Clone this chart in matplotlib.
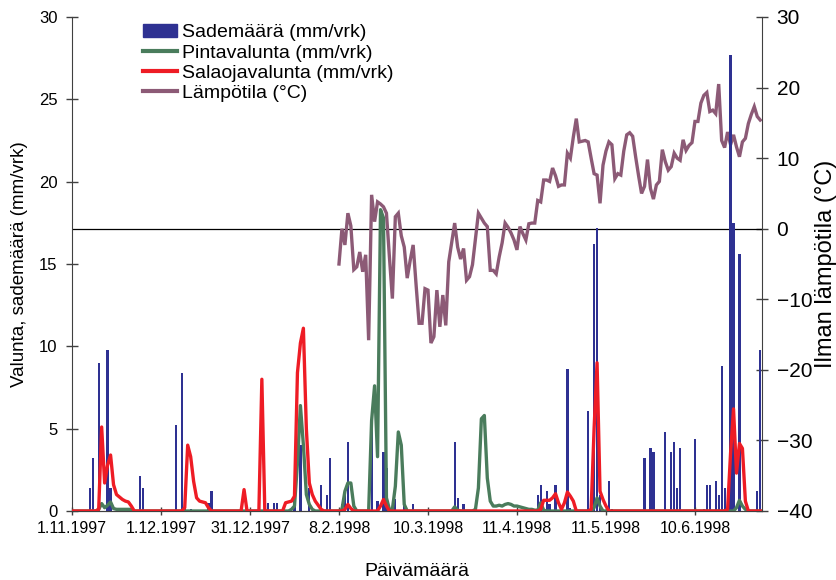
import matplotlib
matplotlib.use("Agg")
import matplotlib.pyplot as plt
from matplotlib.patches import Patch
from matplotlib.lines import Line2D
import numpy as np

plt.rcParams['font.family'] = ['Liberation Sans', 'DejaVu Sans']

# category axis: one slot per measured day, ticks every 30 slots
tick_labels = ["1.11.1997", "1.12.1997", "31.12.1997", "8.2.1998",
               "10.3.1998", "11.4.1998", "11.5.1998", "10.6.1998"]

# precipitation (mm/vrk), day slot -> value
rain_day = [0, 6, 7, 9, 12, 13, 23, 24, 35, 37, 38, 40, 46, 47,
            66, 68, 69, 75, 77, 80, 84, 86, 87, 91, 92, 93,
            101, 103, 105, 106, 109, 112, 115, 129, 130, 132,
            157, 158, 160, 161, 163, 167, 168, 174, 176, 177, 178, 181, 182,
            193, 195, 196, 200, 202, 203, 204, 205, 210, 213, 214, 215,
            217, 218, 219, 220, 222, 223, 225, 231, 232]
rain_mm = [0.2, 1.4, 3.2, 9.0, 9.8, 1.4, 2.1, 1.4, 5.2, 8.4, 0.5, 0.15, 0.5, 1.2,
           0.5, 0.5, 0.5, 1.4, 4.0, 1.4, 1.6, 1.0, 3.2, 0.4, 1.0, 4.2,
           6.2, 0.6, 3.6, 2.6, 0.7, 1.0, 0.4, 4.2, 0.8, 0.4,
           1.0, 1.6, 1.2, 0.4, 1.6, 8.6, 0.2, 6.1, 16.2, 17.2, 1.0, 1.8, 0.15,
           3.2, 3.8, 3.6, 4.8, 3.6, 4.2, 1.4, 3.8, 4.4, 0.15, 1.6, 1.6,
           1.8, 1.0, 8.8, 1.4, 27.7, 17.5, 15.6, 1.2, 9.8]

# surface runoff (mm/vrk), every day slot 0..232
pinta = [
    0, 0, 0, 0, 0, 0, 0, 0, 0, 0.1,
    0.45, 0.2, 0.35, 0.55, 0.15, 0.1, 0.1, 0.1, 0.1, 0.1,
    0.1, 0, 0, 0, 0, 0, 0, 0, 0, 0,
    0, 0, 0, 0, 0, 0, 0, 0, 0, 0,
    0, 0, 0, 0, 0, 0, 0, 0, 0, 0,
    0, 0, 0, 0, 0, 0, 0, 0, 0, 0,
    0, 0, 0, 0, 0, 0, 0, 0, 0, 0,
    0, 0, 0, 0, 0.1, 0.3, 2.9, 6.4, 4.0, 1.0,
    0.4, 0.1, 0, 0, 0, 0, 0, 0, 0, 0,
    0, 0.1, 1.2, 1.7, 1.7, 0.3, 0, 0, 0, 0,
    0, 5.5, 7.6, 3.3, 18.3, 17.8, 0.8, 0.1, 0.1, 1.5,
    4.8, 4.0, 0.4, 0, 0, 0, 0, 0, 0, 0,
    0, 0, 0, 0, 0, 0, 0, 0, 0, 0.25,
    0.05, 0, 0, 0, 0, 0, 0.1, 1.4, 5.6, 5.8,
    2.0, 0.6, 0.3, 0.3, 0.35, 0.3, 0.4, 0.45, 0.4, 0.3,
    0.3, 0.25, 0.2, 0.15, 0.1, 0.1, 0.05, 0.05, 0.5, 0.05,
    0, 0, 0, 0, 0, 0, 0, 0, 0, 0,
    0, 0, 0, 0, 0, 0, 0.2, 0.8, 0.3, 0,
    0, 0, 0, 0, 0, 0, 0, 0, 0, 0,
    0, 0, 0, 0, 0, 0, 0, 0, 0, 0,
    0, 0, 0, 0, 0, 0, 0, 0, 0, 0,
    0, 0, 0, 0, 0, 0, 0, 0, 0, 0,
    0, 0, 0, 0, 0.2, 0.65, 0.3, 0.1, 0, 0,
    0, 0, 0,
]

# drainage runoff (mm/vrk), every day slot 0..232
salaoja = [
    0, 0, 0, 0, 0, 0, 0, 0, 0, 0.1,
    5.1, 1.7, 2.8, 3.4, 1.6, 1.0, 0.85, 0.7, 0.6, 0.55,
    0.3, 0, 0, 0, 0, 0, 0, 0, 0, 0,
    0, 0, 0, 0, 0, 0, 0, 0, 0.2, 4.0,
    3.3, 1.8, 0.8, 0.6, 0.55, 0.5, 0.2, 0, 0, 0,
    0, 0, 0, 0, 0, 0, 0, 0, 1.3, 0,
    0, 0, 0, 0, 8.0, 0, 0, 0, 0, 0,
    0, 0, 0.5, 0.55, 0.6, 0.9, 8.4, 10.2, 11.1, 5.0,
    1.7, 1.0, 0.6, 0.35, 0.1, 0, 0, 0, 0, 0,
    0, 0, 0.1, 0.4, 0.15, 0, 0, 0, 0, 0,
    0, 0, 0, 0, 0.3, 0.7, 0.3, 0, 0, 0,
    0, 0, 0, 0, 0, 0, 0, 0, 0, 0,
    0, 0, 0, 0, 0, 0, 0, 0, 0, 0,
    0, 0, 0, 0, 0, 0, 0, 0, 0, 0,
    0, 0, 0, 0, 0, 0, 0, 0, 0, 0,
    0, 0, 0, 0, 0, 0, 0, 0, 0.1, 0.65,
    0.65, 0.65, 0.8, 1.05, 0.5, 0.1, 0.5, 1.15, 0.9, 0.6,
    0, 0, 0, 0, 0, 0.1, 5.0, 9.0, 1.2, 0.7,
    0.3, 0, 0, 0, 0, 0, 0, 0, 0, 0,
    0, 0, 0, 0, 0, 0, 0, 0, 0, 0,
    0, 0, 0, 0, 0, 0, 0, 0, 0, 0,
    0, 0, 0, 0, 0, 0, 0, 0, 0, 0,
    0, 0.1, 3.5, 6.2, 2.3, 4.1, 3.8, 0.6, 0, 0,
    0, 0, 0,
]

# air temperature (°C), measured from day slot 90 onward
temp_first_day = 90
temp = [
    -5.0, 0.0, -2.3, 2.2, 0.4, -5.8, -5.4, -3.3, -6.1, -3.7,
    -15.8, 4.8, 1.0, 3.8, 3.5, 3.1, 2.2, -4.0, -9.9, 1.7,
    2.2, -1.0, -2.6, -7.0, -4.5, -2.3, -8.0, -13.4, -13.4, -8.5,
    -8.7, -16.2, -15.3, -8.7, -13.9, -9.4, -13.7, -4.7, -2.0, 0.8,
    -2.6, -4.3, -2.8, -7.3, -6.8, -5.1, -1.5, 2.2, 1.5, 0.8,
    0.3, -5.9, -5.9, -6.4, -4.0, -2.0, 0.8, 0.2, -0.6, -1.6,
    -3.0, 0.3, -0.7, -1.6, 0.7, 0.8, 0.8, 4.0, 3.8, 6.9,
    6.9, 6.7, 8.6, 7.5, 6.0, 6.2, 6.2, 10.7, 10.0, 13.0,
    15.6, 12.3, 12.4, 12.5, 12.3, 10.0, 7.8, 7.6, 3.6, 9.0,
    11.0, 12.3, 11.9, 7.1, 7.8, 7.6, 11.0, 13.3, 13.6, 13.1,
    10.2, 7.5, 5.0, 6.0, 9.8, 5.7, 4.2, 6.2, 6.7, 11.2,
    9.5, 8.3, 8.8, 10.7, 10.0, 9.7, 12.6, 11.1, 11.8, 12.2,
    15.2, 15.2, 17.8, 18.9, 19.3, 16.6, 16.8, 16.3, 20.5, 12.5,
    11.5, 13.7, 11.9, 13.3, 11.6, 10.2, 12.3, 12.8, 14.9, 16.2,
    17.3, 15.9, 15.4,
]

blue = '#2E3192'
green = '#4A7C5C'
red = '#EE1C25'
purple = '#8C5A76'
axis_col = '#404040'

fig = plt.figure(figsize=(8.37, 5.8), dpi=100)
ax = fig.add_axes([72 / 837, 1 - 511 / 580, 690 / 837, 494 / 580])
ax2 = ax.twinx()
# runoff/rain drawn on top of the temperature line
ax.set_zorder(ax2.get_zorder() + 1)
ax.patch.set_visible(False)

days = np.arange(len(salaoja))
temp_days = np.arange(temp_first_day, temp_first_day + len(temp))

ax2.axhline(0, color='black', lw=0.9)
ax2.plot(temp_days, temp, color=purple, lw=2.4, solid_joinstyle='miter')

ax.bar(rain_day, rain_mm, width=0.75, color=blue, zorder=1)
ax.plot(days, pinta, color=green, lw=2.4, zorder=2)
ax.plot(days, salaoja, color=red, lw=2.4, zorder=3)

ax.set_xlim(0, 232.6)
ax.set_ylim(0, 30)
ax2.set_ylim(-40, 30)
ax.set_xticks(np.arange(0, 30 * len(tick_labels), 30))
ax.set_xticklabels(tick_labels)
ax.set_yticks(np.arange(0, 31, 5))
ax2.set_yticks(np.arange(-40, 31, 10))

for a in (ax, ax2):
    a.spines['top'].set_visible(False)
    for s in ('left', 'right', 'bottom'):
        a.spines[s].set_color(axis_col)
ax.spines['right'].set_visible(False)
ax2.spines['left'].set_visible(False)

ax.tick_params(axis='y', direction='inout', length=9, width=1, colors=axis_col,
               labelcolor='black', labelsize=12, pad=6)
ax.tick_params(axis='x', direction='inout', length=6, width=1, colors=axis_col,
               labelcolor='black', labelsize=11.5, pad=4)
ax2.tick_params(axis='y', direction='inout', length=9, width=1, colors=axis_col,
                labelcolor='black', labelsize=15, pad=6)

ax.set_ylabel('Valunta, sademäärä (mm/vrk)', fontsize=13.5, labelpad=8)
ax2.set_ylabel('Ilman lämpötila (°C)', fontsize=17, labelpad=2)
ax.set_xlabel('Päivämäärä', fontsize=14, labelpad=20)

handles = [Patch(color=blue),
           Line2D([], [], color=green, lw=3),
           Line2D([], [], color=red, lw=3),
           Line2D([], [], color=purple, lw=3)]
labels = ['Sademäärä (mm/vrk)', 'Pintavalunta (mm/vrk)',
          'Salaojavalunta (mm/vrk)', 'Lämpötila (°C)']
ax.legend(handles, labels, loc='upper left', bbox_to_anchor=(0.103, 0.985),
          frameon=False, fontsize=14, borderpad=0, borderaxespad=0,
          labelspacing=0.16, handlelength=1.75, handleheight=0.6,
          handletextpad=0.25)

fig.savefig('out.png', dpi=100)
